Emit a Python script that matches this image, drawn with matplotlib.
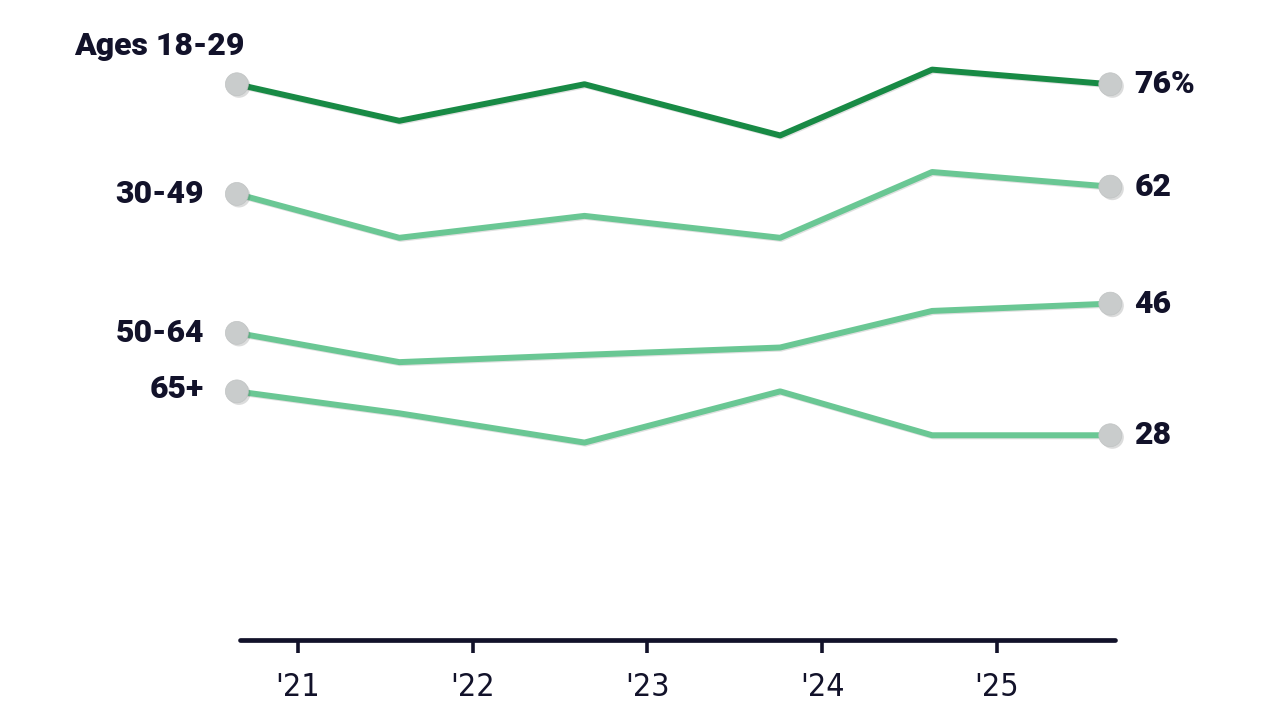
import numpy as np
import matplotlib
matplotlib.use("Agg")
import matplotlib.pyplot as plt
import matplotlib.patheffects as pe

# survey dates as decimal years
dates = [2020.65, 2021.58, 2022.64, 2023.76, 2024.63, 2025.65]

ages_18_29 = [76, 71, 76, 69, 78, 76]
ages_30_49 = [61, 55, 58, 55, 64, 62]
ages_50_64 = [42, 38, 39, 40, 45, 46]
ages_65_up = [34, 31, 27, 34, 28, 28]

groups = ["Ages 18-29", "30-49", "50-64", "65+"]
series = [ages_18_29, ages_30_49, ages_50_64, ages_65_up]
end_labels = ["76%", "62", "46", "28"]
colors = ["#188a45", "#6ac794", "#6ac794", "#6ac794"]

year_ticks = [2021, 2022, 2023, 2024, 2025]
year_labels = ["'21", "'22", "'23", "'24", "'25"]

ink = "#12122a"
bold_font = ["Roboto", "DejaVu Sans"]

fig = plt.figure(figsize=(12.8, 7.2), dpi=100)
ax = fig.add_axes([240 / 1280, 80 / 720, 875 / 1280, 585 / 720])

for name, vals, col, end in zip(groups, series, colors, end_labels):
    ax.plot(dates, vals, color=col, lw=4.3, solid_capstyle="round",
            solid_joinstyle="round", zorder=2, clip_on=False,
            path_effects=[pe.SimpleLineShadow(offset=(0.8, -0.8), alpha=0.12), pe.Normal()])
    ax.plot([dates[0], dates[-1]], [vals[0], vals[-1]], "o", ms=16.5,
            color="#c9cccc", mec="#c0c3c3", mew=0.5, zorder=3, clip_on=False,
            path_effects=[pe.SimplePatchShadow(offset=(1.5, -1.5), alpha=0.18), pe.Normal()])
    ax.annotate(end, (dates[-1], vals[-1]), xytext=(24, 0), textcoords="offset pixels",
                ha="left", va="center", fontsize=23, fontweight="black",
                color=ink, family=bold_font, annotation_clip=False)

# left-side group labels
ax.annotate(groups[0], (dates[0], series[0][0]), xytext=(-163, 38), textcoords="offset pixels",
            ha="left", va="center", fontsize=23, fontweight="black", color=ink,
            family=bold_font, annotation_clip=False)
for name, vals, dy in zip(groups[1:], series[1:], [0, 0, 2]):
    ax.annotate(name, (dates[0], vals[0]), xytext=(-33, dy), textcoords="offset pixels",
                ha="right", va="center", fontsize=23, fontweight="black",
                color=ink, family=bold_font, annotation_clip=False)

ax.set_xlim(2020.668, 2025.677)
ax.set_ylim(0, 80)
for s in ["top", "right", "left"]:
    ax.spines[s].set_visible(False)
ax.spines["bottom"].set_linewidth(3.4)
ax.spines["bottom"].set_color(ink)
ax.spines["bottom"].set_capstyle("round")
ax.set_yticks([])
ax.set_xticks(year_ticks)
ax.set_xticklabels(year_labels, fontsize=23, family="DejaVu Sans",
                   fontstretch="condensed", color=ink)
ax.tick_params(axis="x", length=9, width=2.6, color=ink, pad=14)

fig.savefig("out.png", dpi=100)
